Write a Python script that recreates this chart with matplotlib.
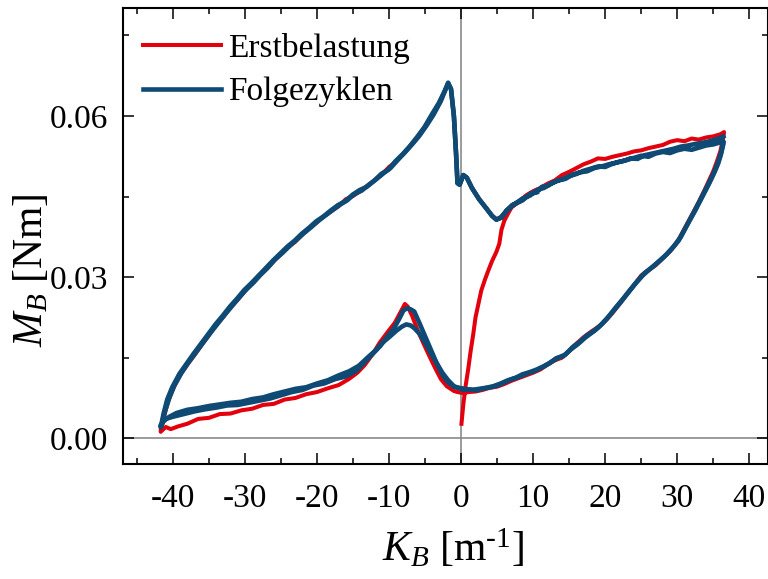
import numpy as np
import matplotlib
matplotlib.use('Agg')
import matplotlib.pyplot as plt

plt.rcParams['font.family'] = ['Liberation Serif', 'DejaVu Serif']
plt.rcParams['mathtext.fontset'] = 'custom'
plt.rcParams['mathtext.rm'] = 'Liberation Serif'
plt.rcParams['mathtext.it'] = 'Liberation Serif:italic'
plt.rcParams['axes.unicode_minus'] = False

# --- Erstbelastung (first loading + first cycle) ---
red_load_k = [0.05, 0.3, 0.6, 1.0, 1.3, 1.7, 2.0, 2.4, 2.8, 3.3, 3.8, 4.3, 4.9, 5.3, 5.6, 6.0, 6.5, 7.0]
red_load_m = [0.0027, 0.0062, 0.0095, 0.0130, 0.0160, 0.0195, 0.0225, 0.0250, 0.0275, 0.0295, 0.0313,
              0.0330, 0.0347, 0.0362, 0.0388, 0.0405, 0.0418, 0.0430]

red_upr_k = [8, 9, 10, 11, 12, 13, 14, 15, 16, 17, 18, 19, 20, 21, 22, 23, 24, 25, 26, 27, 28, 29, 30,
             31, 32, 33, 34, 35, 36, 36.5]
red_upr_m = [0.0440, 0.0452, 0.0460, 0.0466, 0.0474, 0.0480, 0.0490, 0.0496, 0.0503, 0.0510, 0.0515,
             0.0521, 0.0520, 0.0524, 0.0527, 0.0530, 0.0534, 0.0536, 0.0540, 0.0543, 0.0546, 0.0552,
             0.0555, 0.0553, 0.0558, 0.0556, 0.0560, 0.0562, 0.0566, 0.0570]

red_lwr_k = [36.4, 36.0, 35.5, 35, 34, 33, 32, 31, 30, 29, 28, 27, 26, 25, 24, 23, 22, 21, 20, 19, 18,
             17, 16, 15, 14, 13, 12, 11, 10, 9, 8, 7, 6, 5, 4, 3, 2, 1, 0.3]
red_lwr_m = [0.0560, 0.0535, 0.0515, 0.0497, 0.0468, 0.0440, 0.0415, 0.0390, 0.0365, 0.0348, 0.0335,
             0.0322, 0.0313, 0.0303, 0.0285, 0.0268, 0.0250, 0.0233, 0.0218, 0.0207, 0.0198, 0.0188,
             0.0176, 0.0162, 0.0150, 0.0145, 0.0137, 0.0128, 0.0122, 0.0117, 0.0112, 0.0107, 0.0101,
             0.0096, 0.0094, 0.0090, 0.0087, 0.0086, 0.0084]

red_lwl_k = [-0.5, -1, -2, -2.8, -3.5, -4.3, -5.2, -6.0, -6.8, -7.4, -7.8, -8.4, -9.2, -10.3, -11.3,
             -12.3, -13.4, -14.4, -15.6, -17, -18.5, -20, -21.5, -23, -24.5, -26, -27.5, -29, -30.5,
             -32, -33.5, -35, -36.5, -38, -39.3, -40.3, -41, -41.7]
red_lwl_m = [0.0086, 0.0088, 0.0097, 0.0110, 0.0128, 0.0150, 0.0176, 0.0200, 0.0228, 0.0245, 0.0250,
             0.0235, 0.0215, 0.0196, 0.0178, 0.0156, 0.0136, 0.0122, 0.0110, 0.0099, 0.0093, 0.0086,
             0.0082, 0.0075, 0.0072, 0.0064, 0.0062, 0.0055, 0.0052, 0.0046, 0.0045, 0.0038, 0.0036,
             0.0027, 0.0022, 0.0017, 0.0021, 0.0012]

red_upl_k = [-41.7, -41.2, -40.7, -40, -39, -38, -37, -36, -35, -34, -33, -32, -31, -30, -29, -28, -27,
             -26, -25, -24, -23, -22, -21, -20, -19, -18, -17, -16, -15, -14, -13, -12, -11, -10, -9,
             -8, -7, -6, -5, -4, -3, -2.3, -1.8]
red_upl_m = [0.0015, 0.0042, 0.0068, 0.0092, 0.0118, 0.0137, 0.0155, 0.0174, 0.0192, 0.0211, 0.0226,
             0.0244, 0.0258, 0.0275, 0.0288, 0.0302, 0.0315, 0.0330, 0.0343, 0.0356, 0.0366, 0.0380,
             0.0392, 0.0402, 0.0414, 0.0423, 0.0432, 0.0445, 0.0451, 0.0460, 0.0470, 0.0480, 0.0491,
             0.0505, 0.0515, 0.0530, 0.0545, 0.0560, 0.0580, 0.0600, 0.0625, 0.0645, 0.0660]

drop_k = [-1.4, -1.0, -0.7, -0.5, -0.2, 0.3, 0.8, 1.5, 2.5, 3.5, 4.3, 4.9]
drop_m = [0.0650, 0.0600, 0.0530, 0.0475, 0.0472, 0.0490, 0.0485, 0.0466, 0.0445, 0.0428, 0.0414, 0.0407]

red_tail_k = [5.6, 6.3, 7.1, 8.2, 9.6]
red_tail_m = [0.0410, 0.0420, 0.0432, 0.0442, 0.0455]

# --- Folgezyklen, cycle 1 ---
b1_upr_k = [5.6, 6.3, 7.1, 8.5, 9.6, 10.5, 11.2, 12, 13, 14, 15, 16, 17, 18, 19, 20, 21, 22, 23, 24,
            25, 26, 27, 28, 29, 30, 31, 32, 33, 34, 35, 36, 36.4]
b1_upr_m = [0.0412, 0.0423, 0.0434, 0.0443, 0.0455, 0.0458, 0.0468, 0.0470, 0.0478, 0.0482, 0.0488,
            0.0492, 0.0498, 0.0502, 0.0506, 0.0505, 0.0511, 0.0515, 0.0518, 0.0522, 0.0526, 0.0524,
            0.0530, 0.0533, 0.0531, 0.0536, 0.0539, 0.0537, 0.0541, 0.0545, 0.0547, 0.0551, 0.0553]

b1_lwr_k = [36.4, 36.1, 35.7, 35.2, 34.5, 33.5, 32.5, 31.5, 30.5, 29.5, 28.5, 27.5, 26.5, 25.5, 24.5,
            23.5, 22.5, 21.5, 20.5, 19.5, 18.5, 17.5, 16.5, 15.5, 14.5, 13.5, 12.5, 11.5, 10.5, 9.5,
            8.5, 7.5, 6.5, 5.5, 4.5, 3.5, 2.5, 1.5, 0.5]
b1_lwr_m = [0.0548, 0.0530, 0.0512, 0.0496, 0.0476, 0.0450, 0.0424, 0.0400, 0.0375, 0.0357, 0.0342,
            0.0330, 0.0318, 0.0308, 0.0293, 0.0277, 0.0260, 0.0244, 0.0227, 0.0212, 0.0200, 0.0192,
            0.0180, 0.0170, 0.0156, 0.0150, 0.0142, 0.0134, 0.0128, 0.0123, 0.0119, 0.0112, 0.0108,
            0.0102, 0.0097, 0.0094, 0.0092, 0.0090, 0.0092]

b1_lwl_k = [-0.3, -1, -1.8, -2.6, -3.4, -4.2, -5.0, -5.8, -6.5, -7.0, -7.5, -8.0, -8.6, -9.3, -10.2,
            -11.2, -12.2, -13.3, -14.5, -16, -17.5, -19, -20.5, -22, -23.5, -25, -26.5, -28, -29.5,
            -31, -32.5, -34, -35.5, -37, -38.5, -40, -41, -41.7]
b1_lwl_m = [0.0094, 0.0096, 0.0104, 0.0118, 0.0140, 0.0165, 0.0190, 0.0215, 0.0236, 0.0240, 0.0242,
            0.0238, 0.0222, 0.0205, 0.0190, 0.0172, 0.0158, 0.0143, 0.0126, 0.0115, 0.0110, 0.0102,
            0.0098, 0.0090, 0.0086, 0.0080, 0.0074, 0.0070, 0.0066, 0.0062, 0.0061, 0.0057, 0.0054,
            0.0050, 0.0045, 0.0040, 0.0036, 0.0025]

b1_upl_k = [-41.6, -41.1, -40.5, -39.8, -38.8, -37.8, -36.8, -35.8, -34.8, -33.8, -32.8, -31.8, -30.8,
            -29.8, -28.8, -27.8, -26.8, -25.8, -24.8, -23.8, -22.8, -21.8, -20.8, -19.8, -18.8, -17.8,
            -16.8, -15.8, -14.8, -13.8, -12.8, -11.8, -10.8, -9.8, -8.8, -7.8, -6.8, -5.8, -4.8, -3.8,
            -2.8, -2.2, -1.8]
b1_upl_m = [0.0022, 0.0050, 0.0075, 0.0098, 0.0122, 0.0142, 0.0160, 0.0178, 0.0196, 0.0213, 0.0230,
            0.0246, 0.0262, 0.0277, 0.0290, 0.0305, 0.0318, 0.0333, 0.0345, 0.0358, 0.0370, 0.0382,
            0.0393, 0.0405, 0.0415, 0.0425, 0.0435, 0.0443, 0.0455, 0.0461, 0.0472, 0.0482, 0.0493,
            0.0503, 0.0518, 0.0532, 0.0547, 0.0563, 0.0582, 0.0603, 0.0628, 0.0648, 0.0662]

# --- Folgezyklen, cycle 2 ---
b2_upr_k = [5.6, 6.3, 7.1, 8.5, 9.6, 10.5, 11.5, 12.5, 13.5, 14.5, 15.5, 16.5, 17.5, 18.5, 19.5, 20.5,
            21.5, 22.5, 23.5, 24.5, 25.5, 26.5, 27.5, 28.5, 29.5, 30.5, 31.5, 32.5, 33.5, 34.5, 35.5,
            36.4]
b2_upr_m = [0.0411, 0.0424, 0.0433, 0.0446, 0.0452, 0.0462, 0.0466, 0.0474, 0.0480, 0.0483, 0.0491,
            0.0495, 0.0497, 0.0503, 0.0506, 0.0510, 0.0513, 0.0516, 0.0521, 0.0520, 0.0527, 0.0530,
            0.0533, 0.0536, 0.0539, 0.0543, 0.0545, 0.0548, 0.0550, 0.0553, 0.0557, 0.0562]

b2_lwr_k = [36.4, 36.0, 35.5, 35.0, 34.2, 33.2, 32.2, 31.2, 30.2, 29.2, 28.2, 27.2, 26.2, 25.2, 24.2,
            23.2, 22.2, 21.2, 20.2, 19.2, 18.2, 17.2, 16.2, 15.2, 14.2, 13.2, 12.2, 11.2, 10.2, 9.2,
            8.2, 7.2, 6.2, 5.2, 4.2, 3.2, 2.2, 1.2, 0.3]
b2_lwr_m = [0.0550, 0.0527, 0.0508, 0.0492, 0.0470, 0.0444, 0.0418, 0.0393, 0.0368, 0.0352, 0.0338,
            0.0326, 0.0315, 0.0303, 0.0288, 0.0271, 0.0254, 0.0238, 0.0222, 0.0208, 0.0197, 0.0187,
            0.0175, 0.0165, 0.0153, 0.0149, 0.0139, 0.0132, 0.0125, 0.0121, 0.0115, 0.0111, 0.0105,
            0.0099, 0.0095, 0.0093, 0.0089, 0.0091, 0.0090]

b2_lwl_k = [-0.3, -1, -1.8, -2.6, -3.4, -4.2, -5.0, -5.8, -6.5, -7.0, -7.6, -8.2, -9.0, -10, -11, -12,
            -13, -14.2, -15.5, -17, -18.5, -20, -21.5, -23, -24.5, -26, -27.5, -29, -30.5, -32, -33.5,
            -35, -36.5, -38, -39.5, -40.5, -41.3, -41.7]
b2_lwl_m = [0.0093, 0.0097, 0.0108, 0.0122, 0.0140, 0.0158, 0.0178, 0.0195, 0.0205, 0.0210, 0.0212,
            0.0208, 0.0200, 0.0188, 0.0177, 0.0162, 0.0150, 0.0135, 0.0125, 0.0117, 0.0108, 0.0102,
            0.0095, 0.0092, 0.0087, 0.0082, 0.0076, 0.0073, 0.0068, 0.0066, 0.0063, 0.0060, 0.0056,
            0.0053, 0.0047, 0.0040, 0.0032, 0.0022]

b2_upl_k = [-41.7, -41.3, -40.8, -40.1, -39.1, -38.1, -37.1, -36.1, -35.1, -34.1, -33.1, -32.1, -31.1,
            -30.1, -29.1, -28.1, -27.1, -26.1, -25.1, -24.1, -23.1, -22.1, -21.1, -20.1, -19.1, -18.1,
            -17.1, -16.1, -15.1, -14.1, -13.1, -12.1, -11.1, -10.1, -9.1, -8.1, -7.1, -6.1, -5.1, -4.1,
            -3.1, -2.3, -1.8]
b2_upl_m = [0.0020, 0.0046, 0.0072, 0.0095, 0.0120, 0.0139, 0.0158, 0.0176, 0.0194, 0.0212, 0.0228,
            0.0245, 0.0260, 0.0276, 0.0289, 0.0303, 0.0317, 0.0331, 0.0344, 0.0357, 0.0368, 0.0381,
            0.0392, 0.0404, 0.0413, 0.0424, 0.0434, 0.0441, 0.0453, 0.0462, 0.0468, 0.0479, 0.0492,
            0.0500, 0.0516, 0.0529, 0.0544, 0.0561, 0.0579, 0.0602, 0.0624, 0.0646, 0.0661]

red_k = np.concatenate([red_load_k, red_upr_k, red_lwr_k, red_lwl_k, red_upl_k, drop_k, red_tail_k])
red_m = np.concatenate([red_load_m, red_upr_m, red_lwr_m, red_lwl_m, red_upl_m, drop_m, red_tail_m])
blue1_k = np.concatenate([b1_upr_k, b1_lwr_k, b1_lwl_k, b1_upl_k, drop_k, b2_upr_k])
blue1_m = np.concatenate([b1_upr_m, b1_lwr_m, b1_lwl_m, b1_upl_m, drop_m, b2_upr_m])
blue2_k = np.concatenate([b2_lwr_k, b2_lwl_k, b2_upl_k, drop_k, b1_upr_k[:6]])
blue2_m = np.concatenate([b2_lwr_m, b2_lwl_m, b2_upl_m, drop_m, b1_upr_m[:6]])

red = '#e3000c'
blue = '#0e4a74'

fig = plt.figure(figsize=(7.68, 5.79), dpi=100)
ax = fig.add_axes([122.5 / 768, (579 - 463.5) / 579, (768 - 122.5) / 768, (463.5 - 8) / 579])

ax.axvline(0, color='#8a8a8a', lw=1.2, zorder=1)
ax.axhline(0, color='#8a8a8a', lw=1.2, zorder=1)

ax.plot(red_k, red_m, color=red, lw=2.9, label='Erstbelastung', zorder=2)
ax.plot(blue1_k, blue1_m, color=blue, lw=3.3, label='Folgezyklen', zorder=3)
ax.plot(blue2_k, blue2_m, color=blue, lw=3.3, zorder=3)

ax.set_xlim(-47, 42.6)
ax.set_ylim(-0.0047, 0.0801)
ax.set_xticks(np.arange(-40, 41, 10))
ax.set_xticks(np.arange(-45, 42, 5), minor=True)
ax.set_yticks([0.0, 0.03, 0.06])
ax.set_yticks([0.015, 0.045, 0.075], minor=True)
ax.yaxis.set_major_formatter(matplotlib.ticker.FormatStrFormatter('%.2f'))

ax.tick_params(which='both', direction='in', top=True, right=True, width=1.1, labelsize=24)
ax.tick_params(which='major', length=8)
ax.tick_params(which='minor', length=4.3)
ax.tick_params(axis='x', pad=14.5)
ax.tick_params(axis='y', pad=10)
for s in ax.spines.values():
    s.set_linewidth(1.5)

ax.set_xlabel(r'$K_B$ [m$^{\text{-1}}$]', fontsize=30)
ax.set_ylabel(r'$M_B$ [Nm]', fontsize=30)
ax.xaxis.set_label_coords(0.512, -0.14)
ax.yaxis.set_label_coords(-0.11, 0.424)

ax.legend(loc='upper left', bbox_to_anchor=(0.032, 0.945), frameon=False, fontsize=24,
          handlelength=2.35, handletextpad=0.2, labelspacing=0.38, borderpad=0, borderaxespad=0)

fig.savefig('out.png', dpi=100)
plt.close(fig)
